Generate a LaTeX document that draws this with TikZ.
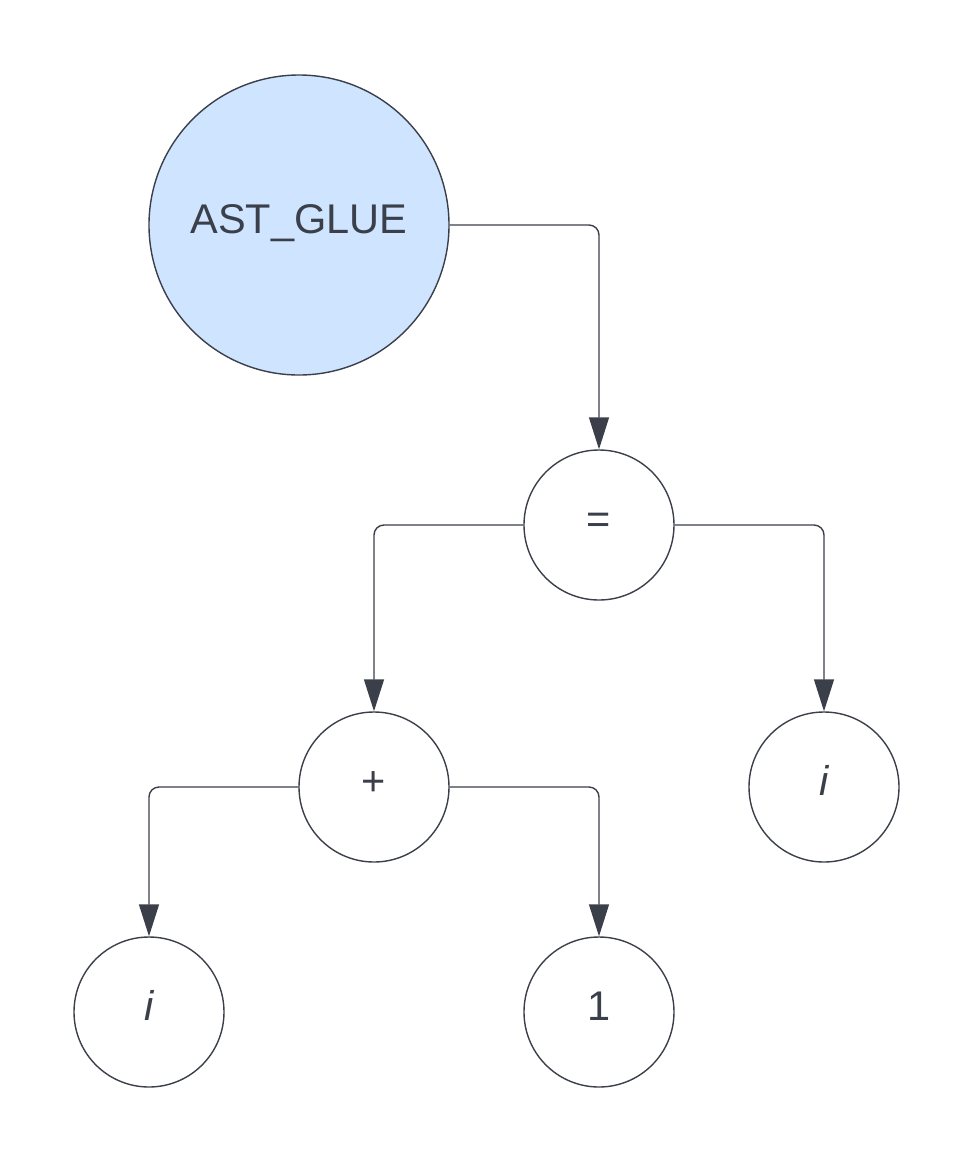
\documentclass[tikz,border=0pt]{standalone}
\usepackage{fontspec}
\setmainfont{Liberation Sans}
\usetikzlibrary{arrows.meta}
\definecolor{edge}{HTML}{3A3F4A}
\definecolor{glue}{HTML}{CFE4FF}
\tikzset{
  treenode/.style={circle, draw=edge, line width=1.4pt, inner sep=0pt, text=edge,
    text height=30pt, text depth=14pt, font=\fontsize{41.5}{41.5}\selectfont},
  small/.style={treenode, minimum size=150pt},
  big/.style={treenode, minimum size=300pt, fill=glue},
  link/.style={draw=edge, line width=1.4pt, rounded corners=10pt, -{Triangle[length=32pt,width=20pt]}},
}
\begin{document}
\begin{tikzpicture}[x=1pt,y=-1pt]
\useasboundingbox (0,0) rectangle (975,1163);
\node[big] (glue) at (299,225) {AST\_GLUE};
\node[small] (eq) at (599,525) {=};
\node[small] (plus) at (374,787) {+};
\node[small] (ir) at (824,787) {\itshape i};
\node[small] (il) at (149,1012) {\itshape i};
\node[small] (one) at (599,1012) {1};
\draw[link] (glue.east) -| (eq.north);
\draw[link] (eq.west) -| (plus.north);
\draw[link] (eq.east) -| (ir.north);
\draw[link] (plus.west) -| (il.north);
\draw[link] (plus.east) -| (one.north);
\end{tikzpicture}
\end{document}
